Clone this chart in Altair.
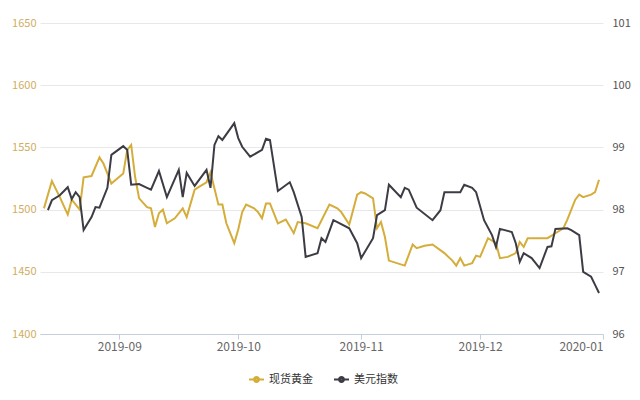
import altair as alt
import pandas as pd

# ---- data ----
gold_dates = [
    "2019-08-13", "2019-08-15", "2019-08-17", "2019-08-19", "2019-08-20", "2019-08-22",
    "2019-08-23", "2019-08-25", "2019-08-27", "2019-08-28", "2019-08-30", "2019-09-02",
    "2019-09-03", "2019-09-04", "2019-09-05", "2019-09-06", "2019-09-08", "2019-09-09",
    "2019-09-10", "2019-09-11", "2019-09-12", "2019-09-13", "2019-09-15", "2019-09-17",
    "2019-09-18", "2019-09-20", "2019-09-21", "2019-09-23", "2019-09-24", "2019-09-25",
    "2019-09-26", "2019-09-27", "2019-09-28", "2019-09-30", "2019-10-01", "2019-10-02",
    "2019-10-03", "2019-10-05", "2019-10-06", "2019-10-07", "2019-10-08", "2019-10-09",
    "2019-10-11", "2019-10-13", "2019-10-15", "2019-10-16", "2019-10-18", "2019-10-21",
    "2019-10-24", "2019-10-26", "2019-10-27", "2019-10-29", "2019-10-31", "2019-11-01",
    "2019-11-02", "2019-11-04", "2019-11-05", "2019-11-06", "2019-11-07", "2019-11-08",
    "2019-11-10", "2019-11-12", "2019-11-14", "2019-11-15", "2019-11-17", "2019-11-19",
    "2019-11-22", "2019-11-24", "2019-11-25", "2019-11-26", "2019-11-27", "2019-11-29",
    "2019-11-30", "2019-12-01", "2019-12-03", "2019-12-05", "2019-12-06", "2019-12-08",
    "2019-12-10", "2019-12-11", "2019-12-12", "2019-12-13", "2019-12-18", "2019-12-20",
    "2019-12-22", "2019-12-23", "2019-12-25", "2019-12-26", "2019-12-27", "2019-12-29",
    "2019-12-30", "2019-12-31",
]
gold_values = [
    1501, 1523, 1510, 1496, 1508, 1500,
    1526, 1527, 1542, 1537, 1521, 1529,
    1548, 1552, 1526, 1509, 1502, 1501,
    1486, 1497, 1500, 1489, 1493, 1501,
    1494, 1516, 1518, 1522, 1530, 1517,
    1504, 1504, 1489, 1473, 1484, 1498,
    1504, 1501, 1498, 1493, 1505, 1505,
    1489, 1492, 1481, 1490, 1489, 1485,
    1504, 1501, 1498, 1488, 1512, 1514,
    1513, 1509, 1485, 1490, 1478, 1459,
    1457, 1455, 1472, 1469, 1471, 1472,
    1465, 1459, 1455, 1461, 1455, 1457,
    1463, 1462, 1477, 1473, 1461, 1462,
    1465, 1474, 1470, 1477, 1477, 1481,
    1485, 1492, 1508, 1512, 1510, 1512,
    1514, 1524,
]

usd_dates = [
    "2019-08-14", "2019-08-15", "2019-08-17", "2019-08-19", "2019-08-20", "2019-08-21",
    "2019-08-22", "2019-08-23", "2019-08-25", "2019-08-26", "2019-08-27", "2019-08-29",
    "2019-08-30", "2019-09-02", "2019-09-03", "2019-09-04", "2019-09-06", "2019-09-08",
    "2019-09-09", "2019-09-11", "2019-09-13", "2019-09-16", "2019-09-17", "2019-09-18",
    "2019-09-20", "2019-09-23", "2019-09-24", "2019-09-25", "2019-09-26", "2019-09-27",
    "2019-09-30", "2019-10-01", "2019-10-02", "2019-10-04", "2019-10-07", "2019-10-08",
    "2019-10-09", "2019-10-11", "2019-10-14", "2019-10-15", "2019-10-17", "2019-10-18",
    "2019-10-21", "2019-10-22", "2019-10-23", "2019-10-25", "2019-10-26", "2019-10-29",
    "2019-10-31", "2019-11-01", "2019-11-04", "2019-11-05", "2019-11-07", "2019-11-08",
    "2019-11-11", "2019-11-12", "2019-11-13", "2019-11-15", "2019-11-19", "2019-11-21",
    "2019-11-22", "2019-11-26", "2019-11-27", "2019-11-29", "2019-11-30", "2019-12-02",
    "2019-12-04", "2019-12-05", "2019-12-06", "2019-12-09", "2019-12-10", "2019-12-11",
    "2019-12-12", "2019-12-14", "2019-12-16", "2019-12-18", "2019-12-19", "2019-12-20",
    "2019-12-23", "2019-12-24", "2019-12-26", "2019-12-27", "2019-12-29", "2019-12-30",
    "2019-12-31",
]
usd_values = [
    97.99, 98.15, 98.23, 98.36, 98.17, 98.28,
    98.20, 97.67, 97.88, 98.04, 98.03, 98.35,
    98.88, 99.02, 98.96, 98.40, 98.41, 98.35,
    98.32, 98.62, 98.20, 98.64, 98.20, 98.59,
    98.38, 98.64, 98.35, 99.04, 99.18, 99.12,
    99.39, 99.15, 99.01, 98.85, 98.96, 99.14,
    99.12, 98.30, 98.44, 98.28, 97.88, 97.24,
    97.30, 97.54, 97.48, 97.83, 97.80, 97.70,
    97.46, 97.22, 97.54, 97.91, 97.99, 98.40,
    98.20, 98.35, 98.32, 98.03, 97.83, 97.99,
    98.28, 98.28, 98.40, 98.35, 98.28, 97.83,
    97.59, 97.40, 97.69, 97.64, 97.46, 97.16,
    97.30, 97.22, 97.06, 97.40, 97.41, 97.69,
    97.70, 97.67, 97.59, 97.00, 96.92, 96.79,
    96.66,
]

series_names = ["现货黄金", "美元指数"]
series_colors = ["#d5ad3b", "#3c3c44"]
gold_ticks = [1400, 1450, 1500, 1550, 1600, 1650]
usd_ticks = [96, 97, 98, 99, 100, 101]
month_ticks = [(2019, 9), (2019, 10), (2019, 11), (2019, 12), (2020, 1)]

gold_df = pd.DataFrame({"date": gold_dates, "gold": gold_values, "series": series_names[0]})
usd_df = pd.DataFrame({"date": usd_dates, "usd": usd_values, "series": series_names[1]})

FONT = "Noto Sans CJK SC"

x_enc = alt.X(
    "date:T",
    title=None,
    scale=alt.Scale(
        type="utc",
        domain=[alt.DateTime(year=2019, month=8, date=12, utc=True),
                alt.DateTime(year=2020, month=1, date=1, utc=True)],
    ),
    axis=alt.Axis(
        values=[alt.DateTime(year=y, month=m, date=1, utc=True) for y, m in month_ticks],
        labelExpr="utcFormat(datum.value, '%Y-%m')",
        grid=False, domainColor="#c5cfdc", tickColor="#c5cfdc", tickSize=5,
        labelColor="#666666", labelFontSize=12, labelPadding=2, labelFont=FONT,
    ),
)

legend = alt.Legend(
    title=None, orient="none", direction="horizontal",
    legendX=208, legendY=348,
    symbolType=(
        "M-1,0L-0.33,0M0.33,0L1,0"
        "M0.33,0A0.33,0.33,0,1,1,-0.33,0A0.33,0.33,0,1,1,0.33,0"
        "M0.1,0A0.1,0.1,0,1,1,-0.1,0A0.1,0.1,0,1,1,0.1,0"
    ),
    symbolSize=225, symbolStrokeWidth=2,
    labelFont=FONT, labelFontSize=11, labelColor="#333333",
    labelOffset=4, columnPadding=17,
)

color_enc = alt.Color(
    "series:N",
    scale=alt.Scale(domain=series_names, range=series_colors),
    legend=legend,
)

gold_line = alt.Chart(gold_df).mark_line(strokeWidth=2).encode(
    x=x_enc,
    y=alt.Y(
        "gold:Q", title=None,
        scale=alt.Scale(domain=[1400, 1650], nice=False, zero=False),
        axis=alt.Axis(
            values=gold_ticks, orient="left", domain=False, ticks=False, format="d",
            grid=True, gridColor="#e8e8e8", labelColor="#cfae62",
            labelFontSize=11, labelPadding=4, labelFont=FONT,
        ),
    ),
    color=color_enc,
)

usd_line = alt.Chart(usd_df).mark_line(strokeWidth=2).encode(
    x=x_enc,
    y=alt.Y(
        "usd:Q", title=None,
        scale=alt.Scale(domain=[96, 101], nice=False, zero=False),
        axis=alt.Axis(
            values=usd_ticks, orient="right", domain=False, ticks=False, format="d",
            grid=False, labelColor="#555555", labelFontSize=11,
            labelPadding=9, labelFont=FONT,
        ),
    ),
    color=color_enc,
)

chart = (
    alt.layer(gold_line, usd_line)
    .resolve_scale(y="independent")
    .properties(
        width=563, height=311,
        autosize=alt.AutoSizeParams(type="none"),
        padding={"left": 32, "top": 15, "right": 29, "bottom": 58},
        background="white",
    )
    .configure_view(stroke=None)
)

chart.save("out.html", embed_options={"renderer": "svg", "actions": False})
